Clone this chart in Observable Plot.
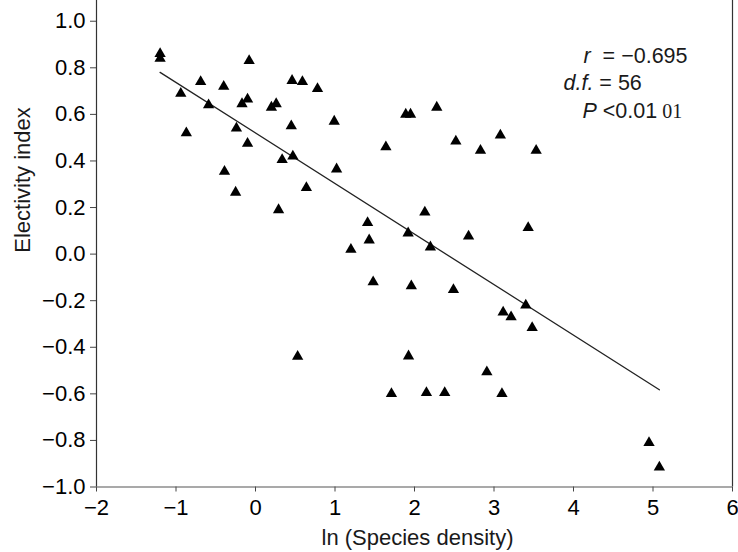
<!DOCTYPE html>
<html><head><meta charset="utf-8">
<script src="https://cdn.jsdelivr.net/npm/d3@7"></script>
<script src="https://cdn.jsdelivr.net/npm/@observablehq/plot@0.6"></script>
<style>body{margin:0;background:#fff} svg{display:block}</style>
</head><body><div id="chart"></div>
<script>
// ln(species density)
const density = [-1.20, -1.20, -0.08, -0.69, -0.40, 0.46, 0.59, 0.78, -0.94, -0.59,
  -0.17, -0.10, 0.20, 0.26, -0.87, -0.24, 0.45, 0.99, -0.10, 0.335,
  0.47, 1.02, -0.39, 0.64, -0.25, 0.29, 1.20, 0.53, 1.89, 1.95,
  2.28, 1.64, 2.52, 2.83, 3.08, 3.53, 2.13, 1.41, 1.43, 1.92,
  2.20, 2.68, 3.43, 1.48, 1.96, 2.49, 3.40, 3.115, 3.215, 3.48,
  1.925, 2.91, 1.71, 2.15, 2.38, 3.10, 4.95, 5.08];
// electivity index
const electivity = [0.86, 0.84, 0.83, 0.74, 0.72, 0.745, 0.74, 0.71, 0.69, 0.64,
  0.645, 0.665, 0.63, 0.645, 0.52, 0.54, 0.55, 0.57, 0.475, 0.405,
  0.42, 0.365, 0.355, 0.285, 0.265, 0.19, 0.02, -0.44, 0.60, 0.60,
  0.63, 0.46, 0.485, 0.445, 0.51, 0.445, 0.18, 0.135, 0.06, 0.09,
  0.03, 0.077, 0.113, -0.12, -0.137, -0.153, -0.22, -0.25, -0.27, -0.316,
  -0.438, -0.506, -0.60, -0.595, -0.595, -0.60, -0.81, -0.915];
const xTicks = [-2, -1, 0, 1, 2, 3, 4, 5, 6];
const yTicks = [-1.0, -0.8, -0.6, -0.4, -0.2, 0.0, 0.2, 0.4, 0.6, 0.8, 1.0];
const xLabel = "ln (Species density)";
const yLabel = "Electivity index";
const statR = "r = −0.695";
const statDf = "d.f. = 56";
const statP = "P <0.01 01";

const points = density.map((x, i) => ({x, y: electivity[i]}));
const font = "'Liberation Sans', Arial, Helvetica, sans-serif";
const ink = "#1a1a1a";
const fs = 22;

const chart = Plot.plot({
  width: 738, height: 552,
  marginLeft: 96, marginRight: 6, marginTop: 0, marginBottom: 65.5,
  style: {fontFamily: font, fontSize: fs + "px", background: "#fff", color: ink},
  x: {domain: [-2, 6]},
  y: {domain: [-1, 1.089]},
  marks: [
    Plot.axisX({ticks: xTicks, tickFormat: d3.format("d"), tickSize: 5, tickPadding: 7, fontSize: fs, label: null, stroke: "#444"}),
    Plot.axisY({ticks: yTicks, tickFormat: d3.format(".1f"), tickSize: 6, tickPadding: 5, fontSize: fs, label: null, stroke: "#444"}),
    Plot.ruleX([-2, 6], {stroke: "#333", strokeWidth: 1.2}),
    Plot.ruleY([-1], {stroke: "#555", strokeWidth: 1.2}),
    Plot.linearRegressionY(points, {x: "x", y: "y", ci: 0, stroke: "#222", strokeWidth: 1.3}),
    Plot.dot(points, {x: "x", y: "y", symbol: "triangle", r: 4.2, fill: "#000", stroke: null}),
    Plot.text([yLabel], {frameAnchor: "left", dx: -74, dy: 9, rotate: -90, fontSize: fs, fill: ink}),
    Plot.text([xLabel], {frameAnchor: "bottom", dx: 3, dy: 57.5, fontSize: fs, fill: ink}),
    Plot.text([statR], {frameAnchor: "top-left", textAnchor: "start", dx: 487, dy: 47, fontSize: 21.5, fill: ink}),
    Plot.text([statDf], {frameAnchor: "top-left", textAnchor: "start", dx: 467, dy: 74, fontSize: 21.5, fill: ink}),
    Plot.text([statP], {frameAnchor: "top-left", textAnchor: "start", dx: 486, dy: 102, fontSize: 21.5, fill: ink})
  ]
});

d3.select(chart).selectAll("text").each(function() {
  const t = this.textContent;
  const s = d3.select(this);
  if (t === statR) {
    s.text(null);
    s.append("tspan").attr("font-style", "italic").text("r");
    s.append("tspan").text("  = −0.695");
  } else if (t === statDf) {
    s.text(null);
    s.append("tspan").attr("font-style", "italic").text("d.f.");
    s.append("tspan").text(" = 56");
  } else if (t === statP) {
    s.text(null);
    s.append("tspan").attr("font-style", "italic").text("P");
    s.append("tspan").text(" <0.01");
    s.append("tspan").attr("font-family", "'Liberation Serif', 'DejaVu Serif', serif").attr("font-size", 20).text(" 01");
  }
});
d3.select(chart).attr("style", null).style("background", "#fff").style("font-family", font);
document.getElementById("chart").appendChild(chart);
</script>
</body></html>
